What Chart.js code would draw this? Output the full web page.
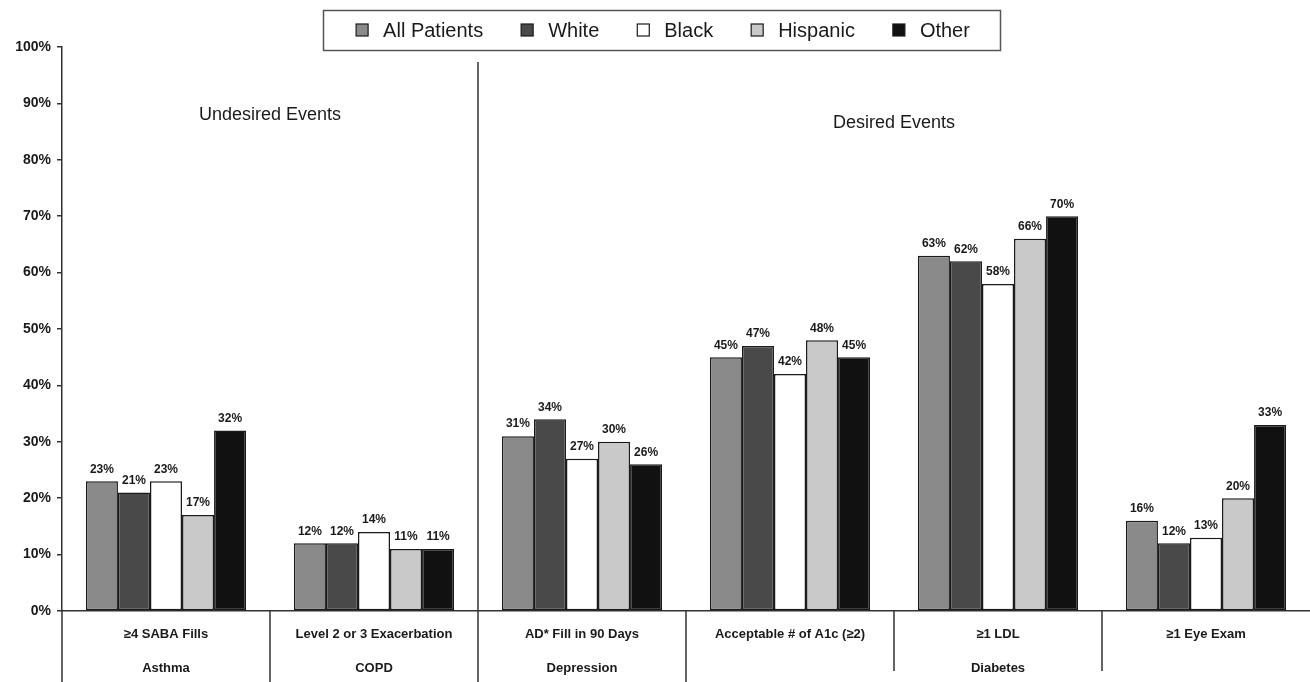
<!DOCTYPE html>
<html>
<head>
<meta charset="utf-8">
<script src="https://cdn.jsdelivr.net/npm/chart.js@4.4.0/dist/chart.umd.min.js"></script>
<style>
  html, body { margin: 0; padding: 0; background: #fff; }
  #wrap { width: 1310px; height: 682px; }
</style>
</head>
<body>
<div id="wrap"><canvas id="myChart" width="1310" height="682"></canvas></div>
<script>
// measures along the x axis
var measures = ['≥4 SABA Fills', 'Level 2 or 3 Exacerbation', 'AD* Fill in 90 Days', 'Acceptable # of A1c (≥2)', '≥1 LDL', '≥1 Eye Exam'];
// condition row under the measures (first and last measure index of each)
var conditionNames = ['Asthma', 'COPD', 'Depression', 'Diabetes'];
var conditionFirst = [0, 1, 2, 3];
var conditionLast = [0, 1, 2, 5];
// how many measures on the left are "undesired"
var undesiredCount = 2;

// series values, percent
var seriesNames = ['All Patients', 'White', 'Black', 'Hispanic', 'Other'];
var allPatients = [23, 12, 31, 45, 63, 16];
var white = [21, 12, 34, 47, 62, 12];
var black = [23, 14, 27, 42, 58, 13];
var hispanic = [17, 11, 30, 48, 66, 20];
var other = [32, 11, 26, 45, 70, 33];

var seriesColors = ['#8a8a8a', '#494949', '#ffffff', '#c9c9c9', '#111111'];
var seriesData = [allPatients, white, black, hispanic, other];

var datasets = seriesNames.map(function(name, i) {
    return {
        label: name,
        data: seriesData[i],
        backgroundColor: seriesColors[i],
        borderColor: '#1a1a1a',
        borderWidth: 1.5,
        borderSkipped: false,
        categoryPercentage: 0.77,
        barPercentage: 1.0
    };
});

var textColor = '#1a1a1a';

var overlay = {
    id: 'overlay',
    afterDatasetsDraw: function(chart) {
        var ctx = chart.ctx;
        // value labels above each bar
        ctx.save();
        ctx.font = 'bold 12px Arial';
        ctx.fillStyle = textColor;
        ctx.textAlign = 'center';
        ctx.textBaseline = 'bottom';
        chart.data.datasets.forEach(function(ds, i) {
            var meta = chart.getDatasetMeta(i);
            meta.data.forEach(function(bar, j) {
                ctx.fillText(ds.data[j] + '%', bar.x, bar.y - 6);
            });
        });
        ctx.restore();
    },
    afterDraw: function(chart) {
        var ctx = chart.ctx;
        var xs = chart.scales.x;
        var area = chart.chartArea;
        var step = xs.getPixelForValue(1) - xs.getPixelForValue(0);
        function edge(k) { return xs.getPixelForValue(k) - step / 2; }
        var H = chart.height;

        ctx.save();
        ctx.strokeStyle = '#333';
        ctx.lineWidth = 1.5;
        // separators under the axis
        for (var k = 0; k < measures.length; k++) {
            var x = edge(k);
            var isCondStart = conditionFirst.indexOf(k) >= 0;
            ctx.beginPath();
            ctx.moveTo(x, area.bottom);
            ctx.lineTo(x, isCondStart ? H : area.bottom + 60);
            ctx.stroke();
        }
        // undesired / desired divider
        var dx = edge(undesiredCount);
        ctx.beginPath();
        ctx.moveTo(dx, 62);
        ctx.lineTo(dx, area.bottom);
        ctx.stroke();

        // measure labels
        ctx.fillStyle = textColor;
        ctx.textAlign = 'center';
        ctx.textBaseline = 'middle';
        ctx.font = 'bold 13px Arial';
        measures.forEach(function(m, i) {
            ctx.fillText(m, xs.getPixelForValue(i), area.bottom + 23);
        });
        // condition labels
        conditionNames.forEach(function(c, i) {
            var cx = (edge(conditionFirst[i]) + edge(conditionLast[i] + 1)) / 2;
            ctx.fillText(c, cx, area.bottom + 57);
        });

        // section titles
        ctx.font = '18px Arial';
        ctx.fillText('Undesired Events', (edge(0) + edge(undesiredCount)) / 2, 115);
        ctx.fillText('Desired Events', (edge(undesiredCount) + edge(measures.length)) / 2, 123);

        // legend box
        ctx.font = '20px Arial';
        var box = 12, gapText = 15, gapItem = 38;
        var widths = seriesNames.map(function(n) { return ctx.measureText(n).width; });
        var total = 0;
        widths.forEach(function(w) { total += box + gapText + w; });
        total += gapItem * (seriesNames.length - 1);
        var lx = 663 - total / 2;
        ctx.lineWidth = 1.5;
        ctx.strokeStyle = '#555';
        ctx.strokeRect(323.5, 10.5, 677, 40);
        ctx.textAlign = 'left';
        ctx.lineWidth = 1.2;
        ctx.strokeStyle = '#1a1a1a';
        seriesNames.forEach(function(n, i) {
            ctx.fillStyle = seriesColors[i];
            ctx.fillRect(lx, 24, box, box);
            ctx.strokeRect(lx, 24, box, box);
            ctx.fillStyle = textColor;
            ctx.fillText(n, lx + box + gapText, 31);
            lx += box + gapText + widths[i] + gapItem;
        });
        ctx.restore();
    }
};

var ctx = document.getElementById('myChart').getContext('2d');
var chart = new Chart(ctx, {
    type: 'bar',
    data: {
        labels: measures,
        datasets: datasets
    },
    options: {
        responsive: false,
        animation: false,
        layout: { padding: { top: 47, left: 0, right: -6, bottom: 0 } },
        plugins: {
            legend: { display: false },
            tooltip: { enabled: false }
        },
        scales: {
            x: {
                ticks: { display: false },
                grid: { display: false },
                border: { color: '#333', width: 1.5 },
                afterFit: function(s) { s.height = 71; }
            },
            y: {
                min: 0,
                max: 100,
                ticks: {
                    stepSize: 10,
                    callback: function(v) { return v + '%'; },
                    font: { family: 'Arial', weight: 'bold', size: 14 },
                    color: textColor,
                    padding: 6
                },
                grid: { drawOnChartArea: false, tickLength: 5, color: '#333', lineWidth: 1.5 },
                border: { color: '#333', width: 1.5 },
                afterFit: function(s) { s.width = 62; }
            }
        }
    },
    plugins: [overlay]
});
</script>
</body>
</html>
